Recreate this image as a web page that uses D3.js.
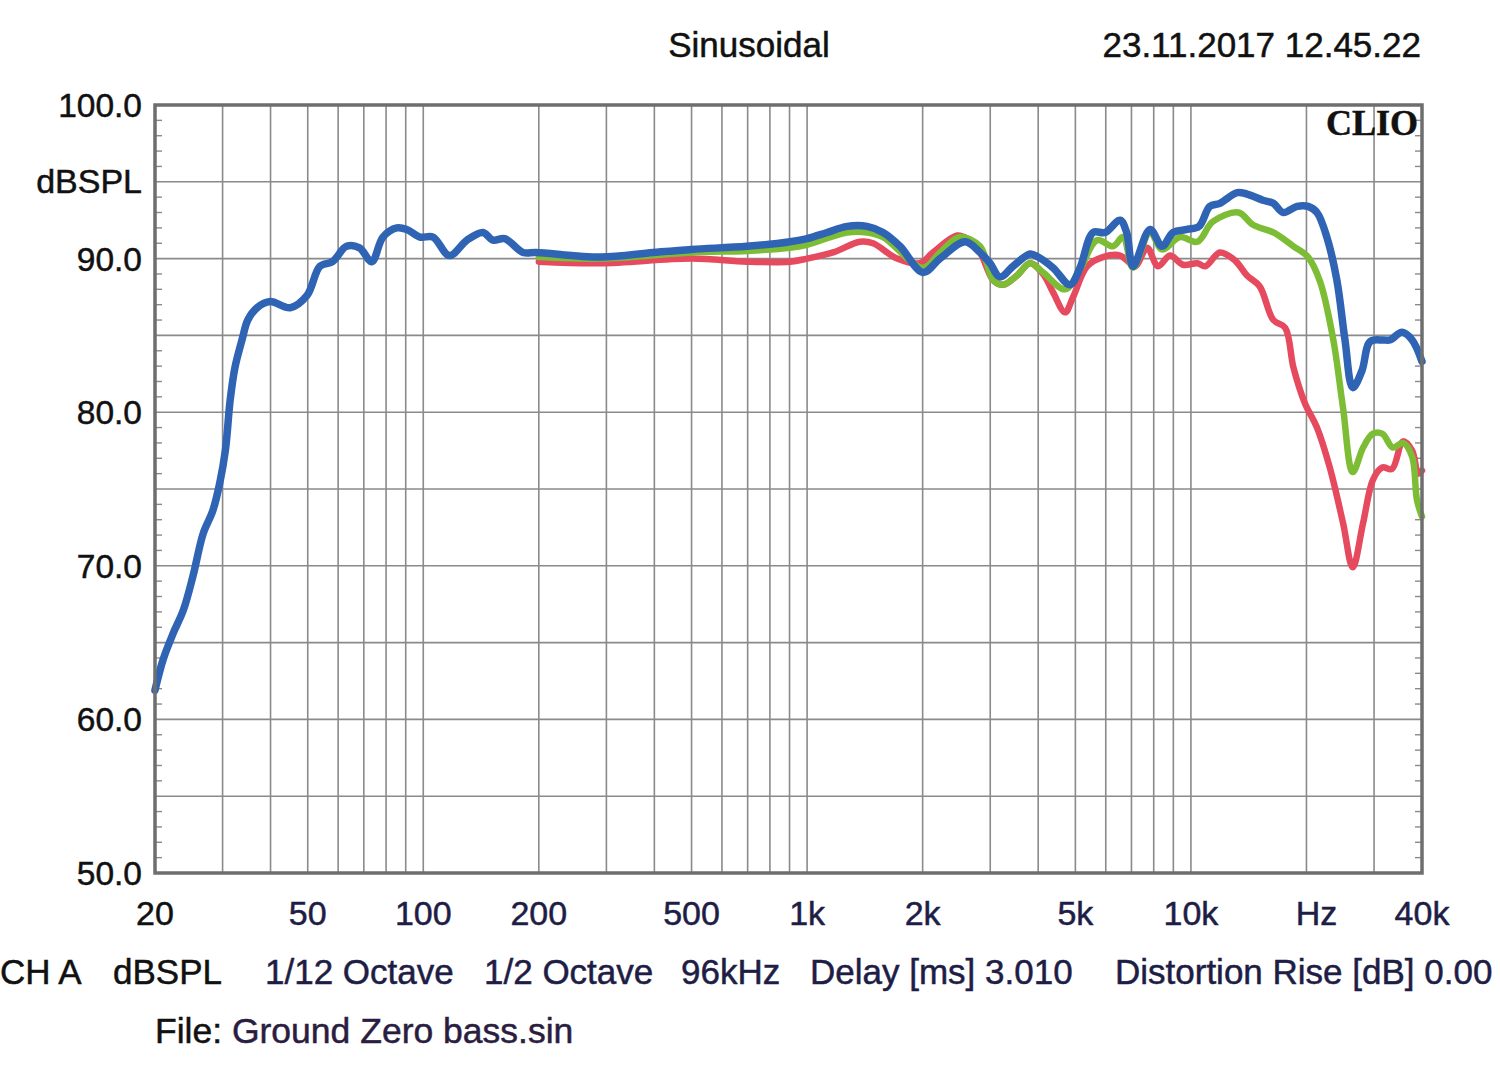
<!DOCTYPE html>
<html>
<head>
<meta charset="utf-8">
<script src="https://cdn.jsdelivr.net/npm/d3@7"></script>
<style>
  body { margin: 0; background: #fff; }
  text { font-family: "Liberation Sans", Arial, sans-serif; stroke-width: 0.5px; }
</style>
</head>
<body>
<div id="grafica"></div>
<script>
// data (Hz, dBSPL)
var blueFreq = [20, 21, 22.3, 23.7, 25.1, 26.7, 28.3, 29.5, 30.5, 31.4, 32.3, 33.7, 34.9, 36.9, 39.9, 45, 49.8, 53.8, 58, 63.1, 68.2, 73.4, 78.5, 85.3, 90.6, 98, 106, 117, 130, 143, 152, 163, 182, 197,
    290, 397, 500, 697, 903, 1000, 1127, 1271, 1433, 1577, 1746, 2005, 2220, 2580, 2822, 2996, 3180, 3440, 3810, 3997, 4374, 4843, 5140,
    5560, 5975, 6538, 6800, 7066, 7826, 8412, 8984, 9772, 10500, 11200, 11900, 13200, 14000, 15400, 16400, 17400, 18900, 20200, 21300,
    22600, 24000, 25200, 26400, 27900, 29300, 31700, 33000, 35500, 37700, 40000];
var blueDb = [61.9, 63.9, 65.6, 67.1, 69.3, 72.1, 73.6, 75.4, 77.5, 80.8, 82.9, 84.7, 86.0, 86.8, 87.2, 86.8, 87.6, 89.5, 89.8, 90.8, 90.7, 89.8, 91.4, 92.0, 91.9, 91.4, 91.4, 90.2, 91.2, 91.7, 91.2, 91.3, 90.4, 90.4,
    90.1, 90.4, 90.6, 90.8, 91.1, 91.3, 91.7, 92.1, 92.1, 91.7, 90.8, 89.1, 90.0, 91.1, 90.4, 89.7, 88.8, 89.5, 90.3, 90.1, 89.4, 88.3, 89.4,
    91.7, 91.7, 92.5, 91.7, 89.5, 91.9, 90.8, 91.7, 91.9, 92.1, 93.4, 93.6, 94.3, 94.2, 93.8, 93.6, 93.0, 93.4, 93.4, 93.0,
    91.4, 88.6, 84.7, 81.6, 82.7, 84.6, 84.7, 84.7, 85.2, 84.7, 83.3];

var greenFreq = [200, 290, 500, 697, 903, 1000, 1271, 1433, 1577, 2005, 2220, 2500, 2822, 3052, 3240, 3524, 3810, 4118, 4700, 5140,
    5694, 6268, 6654, 7066, 7826, 8412, 9370, 10400, 11400, 13300, 14500, 16400, 18500, 20200, 21700, 23500, 24900, 26400, 28100,
    29800, 31500, 33600, 35700, 37700, 38800, 40000];
var greenDb = [90.1, 90.0, 90.4, 90.5, 90.7, 90.9, 91.7, 91.7, 91.4, 89.4, 90.4, 91.4, 90.8, 88.6, 88.3, 88.9, 89.7, 89.1, 88.0, 89.3,
    91.2, 90.8, 91.4, 89.4, 91.7, 90.6, 91.4, 91.1, 92.4, 93.0, 92.2, 91.7, 90.8, 90.1, 88.5, 84.7, 80.3, 76.1, 77.7,
    78.6, 78.6, 77.7, 78.0, 77.1, 74.3, 73.2];

var redFreq = [200, 290, 500, 697, 903, 1000, 1168, 1374, 1485, 1716, 1969, 2129, 2458, 2610, 2822, 3052, 3240, 3524, 3810, 4118,
    4374, 4700, 4932, 5364, 5900, 6538, 6940, 7180, 7686, 8210, 8822, 9538, 10400, 10900, 11900, 13000, 14000, 15100, 16400,
    17600, 18500, 19800, 21300, 23000, 24900, 26400, 28100, 29800, 31500, 33400, 35700, 37700, 39100, 40000];
var redDb = [89.8, 89.7, 90.0, 89.8, 89.8, 90.0, 90.4, 91.1, 91.0, 90.0, 89.7, 90.4, 91.5, 91.3, 90.4, 88.6, 88.3, 88.9, 89.7, 89.0,
    87.8, 86.5, 87.5, 89.5, 90.1, 90.2, 89.7, 89.5, 90.7, 89.5, 90.2, 89.6, 89.7, 89.5, 90.4, 89.9, 88.9, 88.2, 86.0,
    85.5, 82.9, 80.6, 79.0, 76.4, 72.8, 69.9, 72.8, 75.6, 76.4, 76.3, 78.1, 77.5, 76.0, 76.2];

var yLabels = [100, 90, 80, 70, 60, 50];
var xTicks = [20, 50, 100, 200, 500, 1000, 2000, 5000, 10000, 20000, 40000];
var xTickLabels = ["20", "50", "100", "200", "500", "1k", "2k", "5k", "10k", "Hz", "40k"];
var xGrid = [30, 40, 50, 60, 70, 80, 90, 100, 200, 300, 400, 500, 600, 700, 800, 900,
    1000, 2000, 3000, 4000, 5000, 6000, 7000, 8000, 9000, 10000, 20000, 30000];
var footer = ["CH A", "dBSPL", "1/12 Octave", "1/2 Octave", "96kHz", "Delay [ms] 3.010", "Distortion Rise [dB] 0.00"];
var footerX = [0, 113, 265, 484, 681, 810, 1115];

var w_full = 1500,
    h_full = 1074;

var margin = { top: 105, right: 78, bottom: 201, left: 155 };
var w = w_full - margin.left - margin.right,
    h = h_full - margin.top - margin.bottom;

var svg = d3.select("#grafica")
    .append("svg")
    .attr("width", w_full)
    .attr("height", h_full);

var g = svg.append("g")
    .attr("transform", "translate(" + margin.left + "," + margin.top + ")");

var x = d3.scaleLog()
    .domain([20, 40000])
    .range([0, w]);

var y = d3.scaleLinear()
    .domain([50, 100])
    .range([h, 0]);

// grid
g.selectAll(".hgrid")
    .data(d3.range(55, 100, 5))
    .enter()
    .append("line")
    .attr("x1", 0)
    .attr("x2", w)
    .attr("y1", function(d) { return y(d); })
    .attr("y2", function(d) { return y(d); })
    .attr("stroke", "#8a8a8a")
    .attr("stroke-width", 1.6);

g.selectAll(".vgrid")
    .data(xGrid)
    .enter()
    .append("line")
    .attr("x1", function(d) { return x(d); })
    .attr("x2", function(d) { return x(d); })
    .attr("y1", 0)
    .attr("y2", h)
    .attr("stroke", "#8a8a8a")
    .attr("stroke-width", 1.6);

// 1 dB ticks on both sides
var minor = d3.range(51, 100, 1).filter(function(d) { return d % 5 != 0; });
g.selectAll(".tl")
    .data(minor)
    .enter()
    .append("line")
    .attr("x1", 0).attr("x2", 7)
    .attr("y1", function(d) { return y(d); })
    .attr("y2", function(d) { return y(d); })
    .attr("stroke", "#8a8a8a")
    .attr("stroke-width", 1.4);
g.selectAll(".tr")
    .data(minor)
    .enter()
    .append("line")
    .attr("x1", w - 7).attr("x2", w)
    .attr("y1", function(d) { return y(d); })
    .attr("y2", function(d) { return y(d); })
    .attr("stroke", "#8a8a8a")
    .attr("stroke-width", 1.4);

// curves
var line = d3.line()
    .x(function(d) { return x(d[0]); })
    .y(function(d) { return y(d[1]); })
    .curve(d3.curveCatmullRom.alpha(0.5));

var series = [
    { f: redFreq, v: redDb, color: "#e64a5e", width: 6.5 },
    { f: greenFreq, v: greenDb, color: "#7dbd35", width: 6.5 },
    { f: blueFreq, v: blueDb, color: "#2f63b3", width: 7.5 }
];

series.forEach(function(s) {
    g.append("path")
        .datum(d3.zip(s.f, s.v))
        .attr("fill", "none")
        .attr("stroke", s.color)
        .attr("stroke-width", s.width)
        .attr("stroke-linejoin", "round")
        .attr("stroke-linecap", "round")
        .attr("d", line);
});

// frame
g.append("rect")
    .attr("x", 0)
    .attr("y", 0)
    .attr("width", w)
    .attr("height", h)
    .attr("fill", "none")
    .attr("stroke", "#6e6e6e")
    .attr("stroke-width", 3.5);

g.append("text")
    .attr("x", w - 4)
    .attr("y", 30)
    .attr("text-anchor", "end")
    .style("font-family", "'Liberation Serif', 'Times New Roman', serif")
    .style("font-weight", "bold")
    .style("font-size", "36px")
    .attr("fill", "#111")
    .text("CLIO");

// y labels
svg.selectAll(".ylab")
    .data(yLabels)
    .enter()
    .append("text")
    .attr("x", 142)
    .attr("y", function(d) { return margin.top + y(d) + 12; })
    .attr("text-anchor", "end")
    .style("font-size", "33.5px")
    .attr("fill", "#111")
    .text(function(d) { return d.toFixed(1); });

svg.append("text")
    .attr("x", 142)
    .attr("y", margin.top + y(95) + 11)
    .attr("text-anchor", "end")
    .style("font-size", "34px")
    .attr("fill", "#111")
    .text("dBSPL");

// x labels
svg.selectAll(".xlab")
    .data(xTicks)
    .enter()
    .append("text")
    .attr("x", function(d, i) { return margin.left + x(d) + (i == 9 ? 10 : 0); })
    .attr("y", 925)
    .attr("text-anchor", "middle")
    .style("font-size", "34px")
    .attr("fill", function(d, i) { return i == 0 ? "#111" : "#1e1d45"; })
    .text(function(d, i) { return xTickLabels[i]; });

// header
svg.append("text")
    .attr("x", 749)
    .attr("y", 57)
    .attr("text-anchor", "middle")
    .style("font-size", "35px")
    .attr("fill", "#111")
    .text("Sinusoidal");

svg.append("text")
    .attr("x", 1421)
    .attr("y", 57)
    .attr("text-anchor", "end")
    .style("font-size", "35px")
    .attr("fill", "#111")
    .text("23.11.2017 12.45.22");

// footer
svg.selectAll(".foot")
    .data(footer)
    .enter()
    .append("text")
    .attr("x", function(d, i) { return footerX[i]; })
    .attr("y", 984)
    .style("font-size", "35px")
    .attr("fill", function(d, i) { return i < 2 ? "#111" : "#1e1d45"; })
    .text(function(d) { return d; });

var file = svg.append("text")
    .attr("x", 155)
    .attr("y", 1043)
    .style("font-size", "35.5px");
file.append("tspan").attr("fill", "#111").text("File: ");
file.append("tspan").attr("fill", "#2a1d40").text("Ground Zero bass.sin");

// slightly heavier text, like the scanned original
svg.selectAll("text, tspan").each(function() {
    var f = d3.select(this).attr("fill");
    if (f) d3.select(this).attr("stroke", f);
});
</script>
</body>
</html>
